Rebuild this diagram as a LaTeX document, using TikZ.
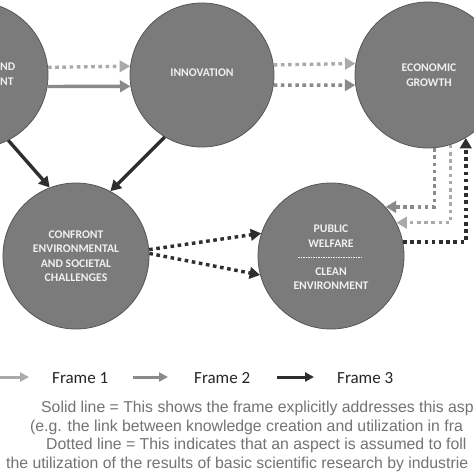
\documentclass[tikz,border=0pt]{standalone}
\usepackage{fontspec}
\setmainfont{Carlito}
\newfontfamily\notefont{Liberation Sans}
\usetikzlibrary{arrows.meta}
\definecolor{circfill}{HTML}{7B7B7B}
\definecolor{circline}{HTML}{555555}
\definecolor{ctext}{HTML}{F0F0F0}
\definecolor{fone}{HTML}{AAAAAA}
\definecolor{ftwo}{HTML}{8A8A8A}
\definecolor{fthree}{HTML}{2E2E2E}
\definecolor{notegray}{HTML}{737373}
\begin{document}
\begin{tikzpicture}[x=1pt,y=-1pt,
  bubble/.style={circle,draw=circline,line width=0.8pt,fill=circfill,minimum size=146pt,inner sep=0pt},
  ctxt/.style={text=ctext,font=\bfseries\fontsize{11.7}{14.5}\selectfont,align=center,inner sep=0pt},
  tip/.style={-{Triangle[length=10.5pt,width=11.5pt]}},
  smalltip/.style={-{Triangle[length=9pt,width=9pt]}},
  dots/.style={dash pattern=on 3.6pt off 3.6pt},
  fa/.style={draw=fone,line width=3.4pt},
  fb/.style={draw=ftwo,line width=3.4pt},
  fc/.style={draw=fthree,line width=3.4pt},
  frametxt/.style={anchor=base west,inner sep=0pt,text=black!85,font=\fontsize{17}{20}\selectfont},
  note/.style={anchor=base west,inner sep=0pt,text=notegray,font=\notefont\fontsize{15.8}{19}\selectfont}
]
\useasboundingbox (0,0) rectangle (474,474);
\clip (0,0) rectangle (474,474);
\fill[white] (0,0) rectangle (474,474);

% circles
\node[bubble] (rd) at (-25,75) {};
\node[bubble,minimum size=144pt] (inn) at (202,75) {};
\node[bubble] (eco) at (428,75) {};
\node[bubble] (conf) at (76,256) {};
\node[bubble] (pw) at (331,256) {};

% texts
\node[ctxt,anchor=west] (rdt1) at (0,67) {ND};
\node[ctxt,anchor=west] (rdt2) at (0,82) {NT};
\node[ctxt] (innt) at (202,73) {INNOVATION};
\node[ctxt] (ecot) at (429,75) {ECONOMIC\\GROWTH};
\node[ctxt] (conft) at (76,256) {CONFRONT\\ENVIRONMENTAL\\AND SOCIETAL\\CHALLENGES};
\node[ctxt] (pwt1) at (331,236) {PUBLIC\\WELFARE};
\node[ctxt] (pwt2) at (331,278.5) {CLEAN\\ENVIRONMENT};
\coordinate (sepl) at (298,257);
\coordinate (sepr) at (362,257);
\draw[ctext,line width=0.6pt,dash pattern=on 1.5pt off 1pt] (sepl) -- (sepr);

% R&D -> innovation
\draw[fa,dots,tip] (rd.6.3) -- (inn.173.6);
\draw[fb,tip] (rd.-9.5) -- (inn.189.6);
% innovation -> economic growth
\draw[fa,dots,tip] (inn.8.8) -- (eco.171.2);
\draw[fb,dots,tip] (inn.-8.8) -- (eco.188.8);
% to confront
\draw[fc,tip] (rd.-63) -- (conf.111.5);
\draw[fc,tip] (inn.239) -- (conf.62.4);
% confront -> public welfare
\draw[fc,dots,tip] (conf.5.4) -- (pw.162);
\draw[fc,dots,tip] (conf.2) -- (pw.195);
% economic growth <-> public welfare
\draw[fb,dots,tip] (eco.275.5) |- (pw.42.2);
\draw[fa,dots,tip] (eco.288.4) |- (pw.27.8);
\draw[fc,dots,tip] (pw.11.9) -| (eco.301.5);

% legend
\coordinate (l1a) at (0,377);  \coordinate (l1b) at (29,377);
\coordinate (l2a) at (133,377); \coordinate (l2b) at (168,377);
\coordinate (l3a) at (277,377); \coordinate (l3b) at (314,377);
\draw[fa,line width=3pt,smalltip] (l1a) -- (l1b);
\draw[fb,line width=3pt,smalltip] (l2a) -- (l2b);
\draw[fc,line width=3pt,smalltip] (l3a) -- (l3b);
\node[frametxt] (fr1) at (52,383) {Frame 1};
\node[frametxt] (fr2) at (194,383) {Frame 2};
\node[frametxt] (fr3) at (337,383) {Frame 3};

\node[note] (n1) at (41,412) {Solid line = This shows the frame explicitly addresses this asp};
\node[note] (n2) at (30,431) {(e.g. the link between knowledge creation and utilization in fra};
\node[note] (n3) at (46,449.5) {Dotted line = This indicates that an aspect is assumed to foll};
\node[note] (n4) at (6,468) {the utilization of the results of basic scientific research by industrie};
\end{tikzpicture}
\end{document}
